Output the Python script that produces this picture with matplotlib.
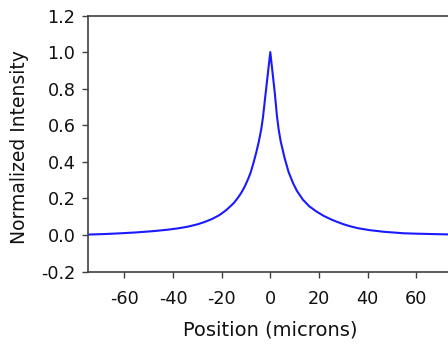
import matplotlib
matplotlib.use("Agg")
import matplotlib.pyplot as plt

plt.rcParams['font.family'] = ['DejaVu Sans']

position = [-75, -68, -61.6, -55, -48, -42, -38, -34, -30, -27, -24, -21, -18.5,
            -16.8, -15, -13.5, -12, -10.5, -9, -8, -7, -5.8, -4.7, -3.7, -3.0,
            -2.0, 0,
            1.9, 2.7, 3.4, 4.3, 5.9, 7.5, 9.3, 11, 13.4, 16, 19, 22, 25, 27.2,
            30, 32.7, 36, 41, 47, 53, 55, 60, 66, 73, 75]
intensity = [0.002, 0.005, 0.009, 0.014, 0.021, 0.029, 0.036, 0.045, 0.058, 0.071,
             0.087, 0.108, 0.132, 0.152, 0.175, 0.200, 0.229, 0.265, 0.310, 0.345,
             0.390, 0.450, 0.512, 0.580, 0.645,
             0.765, 1.0,
             0.770, 0.655, 0.580, 0.510, 0.420, 0.345, 0.285, 0.240, 0.193, 0.157,
             0.128, 0.104, 0.085, 0.073, 0.059, 0.048, 0.037, 0.026, 0.017, 0.011,
             0.009, 0.007, 0.005, 0.003, 0.003]

xticks = [-60, -40, -20, 0, 20, 40, 60]
yticks = [-0.2, 0.0, 0.2, 0.4, 0.6, 0.8, 1.0, 1.2]

fig = plt.figure(figsize=(4.48, 3.45), dpi=100)
ax = fig.add_axes([0.1964, 0.213, 0.8139, 0.742])
ax.plot(position, intensity, color='#1a1aff', linewidth=1.5, solid_joinstyle='round')
ax.set_xlim(-75, 75)
ax.set_ylim(-0.2, 1.2)
ax.set_xticks(xticks)
ax.set_xticklabels([str(t) for t in xticks])
ax.set_yticks(yticks)
ax.set_yticklabels([f"{t:.1f}" for t in yticks])
for s in ['left', 'bottom', 'top', 'right']:
    ax.spines[s].set_color('#404040')
    ax.spines[s].set_linewidth(1.2)
ax.tick_params(axis='both', direction='out', length=4, width=1.0, color='#404040',
               labelsize=12.7, labelcolor='#111111')
ax.tick_params(axis='x', pad=9)
ax.tick_params(axis='y', pad=5)
ax.set_xlabel('Position (microns)', fontsize=14, color='#111111')
ax.xaxis.set_label_coords(0.5, -0.193)
ax.set_ylabel('Normalized Intensity', fontsize=13.5, color='#111111')
ax.yaxis.set_label_coords(-0.162, 0.488)

fig.savefig('out.png', dpi=100)
